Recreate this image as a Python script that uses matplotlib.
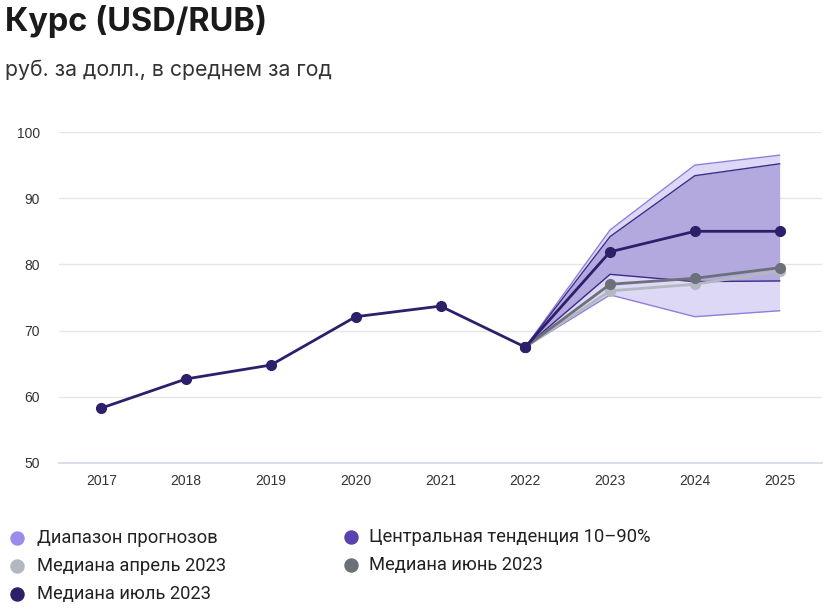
import matplotlib
matplotlib.use("Agg")
import matplotlib.pyplot as plt
from matplotlib.lines import Line2D

plt.rcParams['font.family'] = ['Liberation Sans', 'DejaVu Sans']

years_hist = [2017, 2018, 2019, 2020, 2021, 2022]
hist = [58.3, 62.7, 64.8, 72.1, 73.7, 67.5]

years_fc = [2022, 2023, 2024, 2025]
range_low = [67.5, 75.4, 72.1, 73.0]
range_high = [67.5, 85.2, 95.0, 96.5]
central_low = [67.5, 78.5, 77.4, 77.5]
central_high = [67.5, 84.2, 93.4, 95.2]
median_apr = [67.5, 76.0, 77.0, 79.0]
median_jun = [67.5, 77.0, 77.9, 79.5]
median_jul = [67.5, 81.9, 85.0, 85.0]

x_ticks = [2017, 2018, 2019, 2020, 2021, 2022, 2023, 2024, 2025]
y_ticks = [50, 60, 70, 80, 90, 100]

legend_labels = ["Диапазон прогнозов", "Центральная тенденция 10–90%",
                 "Медиана апрель 2023", "Медиана июнь 2023", "Медиана июль 2023"]

c_range_fill = "#ddd8f6"
c_range_edge = "#8d80da"
c_central_fill = "#b4a9df"
c_central_edge = "#3e2c8a"
c_apr = "#b3b8c0"
c_jun = "#6b7079"
c_jul = "#2e1f6b"

fig = plt.figure(figsize=(8.25, 6.1), dpi=100)
ax = fig.add_axes([59/825, 1-463/610, (822-59)/825, (463-132)/610])

ax.fill_between(years_fc, range_low, range_high, color=c_range_fill, lw=0, zorder=1)
ax.plot(years_fc, range_low, color=c_range_edge, lw=1, zorder=1.5)
ax.plot(years_fc, range_high, color=c_range_edge, lw=1, zorder=1.5)
ax.fill_between(years_fc, central_low, central_high, color=c_central_fill, lw=0, zorder=2)
ax.plot(years_fc, central_low, color=c_central_edge, lw=1, zorder=2.5)
ax.plot(years_fc, central_high, color=c_central_edge, lw=1, zorder=2.5)

ax.plot(years_fc, median_apr, color=c_apr, lw=2, marker='o', ms=7, zorder=3)
ax.plot(years_fc, median_jun, color=c_jun, lw=2, marker='o', ms=7, zorder=4)
ax.plot(years_hist, hist, color=c_jul, lw=2, marker='o', ms=7, zorder=5)
ax.plot(years_fc, median_jul, color=c_jul, lw=2, marker='o', ms=7, zorder=5)

ax.set_xlim(2016.5, 2025.5)
ax.set_ylim(50, 100)
ax.set_xticks(x_ticks)
ax.set_xticklabels([str(v) for v in x_ticks])
ax.set_yticks(y_ticks)
ax.set_yticklabels([str(v) for v in y_ticks])
for v in y_ticks[1:]:
    ax.axhline(v, color="#e6e6e9", lw=1, zorder=0)
for s in ["top", "right", "left"]:
    ax.spines[s].set_visible(False)
ax.spines["bottom"].set_color("#d3d8e8")
ax.spines["bottom"].set_linewidth(1.2)
ax.tick_params(axis='both', length=0, labelsize=10, colors="#333333")
ax.tick_params(axis='x', pad=7.8)
ax.tick_params(axis='y', pad=13.7)

fig.text(5/825, 1-21/610, "Курс (USD/RUB)", fontsize=23.4, fontweight='bold',
         color="#1a1a1a", va='center', ha='left', family=['Inter', 'DejaVu Sans'])
fig.text(5/825, 1-70/610, "руб. за долл., в среднем за год", fontsize=15.3,
         color="#333333", va='center', ha='left', family=['Inter', 'DejaVu Sans'])

leg_colors = ["#9b8ceb", "#5b40b0", c_apr, c_jun, c_jul]
leg_pos = [(17, 538), (351, 537), (17, 566), (351, 565), (17, 594)]
leg_text_x = {17: 37, 351: 369}
for lab, col, (px, py) in zip(legend_labels, leg_colors, leg_pos):
    fig.add_artist(Line2D([px/825], [1-py/610], marker='o', ms=9.4, color=col, lw=0,
                          transform=fig.transFigure))
    fig.text(leg_text_x[px]/825, 1-py/610, lab, fontsize=13.2, color="#222222",
             va='center', ha='left', family=['Roboto', 'DejaVu Sans'])

fig.savefig("out.png", dpi=100, facecolor="white")
